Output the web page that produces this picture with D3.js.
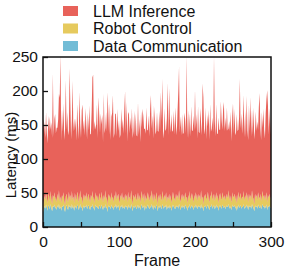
<!DOCTYPE html>
<html>
<head>
<meta charset="utf-8">
<script src="https://cdn.jsdelivr.net/npm/d3@7"></script>
<style>
  html, body { margin: 0; padding: 0; background: #fff; }
  svg { display: block; font-family: "Liberation Sans", Arial, sans-serif; }
  .chart__text { fill: #111; }
</style>
</head>
<body>
<div id="chart"></div>
<script>
// Series names and colours (legend order, top to bottom)
const seriesNames = ["LLM Inference", "Robot Control", "Data Communication"];
const seriesColors = ["#E8625A", "#E6CA5E", "#72BCD6"];

// Tick labels
const xTicks = [0, 50, 100, 150, 200, 250, 300];
const xTickLabels = [0, 100, 200, 300];
const yTicks = [0, 50, 100, 150, 200, 250];

// Data Communication latency per frame (ms), frames 0..300
const dataComm = [
  22, 25, 31, 27, 33, 29, 24, 32, 30, 26, 34, 28, 23, 31, 29, 33, 27, 30, 25, 32,
  28, 34, 26, 30, 24, 31, 29, 33, 27, 22, 30, 32, 28, 25, 33, 29, 31, 26, 34, 28,
  30, 24, 32, 29, 27, 33, 31, 25, 29, 34, 28, 30, 23, 32, 27, 31, 29, 33, 26, 30,
  32, 28, 25, 31, 29, 34, 27, 30, 24, 33, 29, 31, 28, 26, 32, 30, 27, 33, 29, 25,
  31, 28, 34, 27, 30, 22, 32, 29, 31, 26, 33, 28, 30, 25, 31, 29, 34, 27, 30, 32,
  28, 24, 31, 29, 33, 27, 30, 26, 32, 29, 31, 25, 33, 28, 30, 27, 34, 29, 23, 31,
  30, 28, 32, 26, 29, 33, 27, 31, 25, 30, 34, 28, 29, 32, 24, 31, 27, 30, 33, 29,
  26, 31, 28, 34, 30, 25, 32, 29, 27, 33, 30, 23, 31, 28, 32, 29, 26, 34, 30, 27,
  31, 29, 33, 25, 30, 28, 32, 27, 31, 24, 29, 33, 30, 28, 26, 32, 29, 31, 27, 34,
  30, 25, 29, 32, 28, 31, 26, 33, 30, 29, 24, 31, 28, 34, 27, 30, 32, 29, 25, 31,
  28, 33, 30, 26, 32, 29, 31, 27, 34, 28, 30, 23, 31, 29, 32, 27, 30, 33, 28, 25,
  31, 29, 34, 27, 30, 32, 26, 29, 33, 28, 31, 24, 30, 32, 29, 27, 33, 30, 28, 31,
  26, 32, 29, 30, 34, 27, 31, 28, 25, 33, 29, 30, 32, 27, 31, 24, 29, 33, 28, 30,
  32, 27, 30, 29, 34, 26, 31, 28, 33, 30, 25, 32, 29, 31, 27, 34, 30, 28, 23, 32,
  29, 31, 27, 33, 30, 28, 32, 26, 30, 34, 29, 31, 27, 30, 33, 25, 31, 29, 32, 28,
  30
];

// Robot Control latency per frame (ms)
const robotCtrl = [
  10, 12, 15, 12, 18, 14, 11, 17, 16, 12, 19, 13, 10, 16, 14, 18, 12, 15, 11, 17,
  13, 20, 12, 15, 11, 16, 14, 18, 12, 10, 15, 17, 13, 11, 19, 14, 16, 12, 19, 13,
  15, 11, 18, 14, 12, 19, 16, 11, 14, 20, 13, 15, 10, 17, 12, 16, 14, 18, 12, 15,
  17, 13, 11, 16, 14, 19, 12, 15, 11, 18, 14, 16, 13, 12, 18, 15, 12, 19, 14, 11,
  16, 13, 20, 12, 15, 10, 17, 14, 16, 12, 18, 13, 15, 11, 16, 14, 19, 12, 15, 17,
  13, 11, 16, 14, 18, 12, 15, 12, 17, 14, 16, 11, 19, 13, 15, 12, 20, 14, 10, 16,
  15, 13, 17, 12, 14, 18, 12, 16, 11, 15, 19, 13, 14, 18, 11, 16, 12, 15, 18, 14,
  12, 16, 13, 20, 15, 11, 17, 14, 12, 18, 15, 10, 16, 13, 17, 14, 12, 19, 15, 12,
  16, 14, 18, 11, 15, 13, 17, 12, 16, 11, 14, 19, 15, 13, 12, 17, 14, 16, 12, 20,
  15, 11, 14, 17, 13, 16, 12, 18, 15, 14, 11, 16, 13, 19, 12, 15, 18, 14, 11, 16,
  13, 18, 15, 12, 17, 14, 16, 12, 20, 13, 15, 10, 16, 14, 17, 12, 15, 19, 13, 11,
  16, 14, 19, 12, 15, 17, 12, 14, 18, 13, 16, 11, 15, 18, 14, 12, 18, 15, 13, 16,
  12, 17, 14, 15, 20, 12, 16, 13, 11, 18, 14, 15, 17, 12, 16, 11, 14, 19, 13, 15,
  18, 12, 15, 14, 19, 12, 16, 13, 18, 15, 11, 17, 14, 16, 12, 20, 15, 13, 10, 17,
  14, 16, 12, 18, 15, 13, 17, 12, 15, 19, 14, 16, 12, 15, 18, 11, 16, 14, 17, 13,
  15
];

// LLM Inference latency per frame (ms)
const llmInfer = [
  112, 122, 100, 92, 118, 96, 88, 115, 94, 124, 90, 113, 98, 179, 91, 108, 127, 93, 110, 97,
  118, 142, 152, 209, 92, 126, 97, 131, 89, 112, 171, 94, 128, 99, 90, 190, 134, 91, 106, 174,
  95, 125, 92, 117, 88, 129, 104, 93, 156, 98, 90, 127, 147, 94, 119, 88, 132, 99, 91, 123,
  93, 138, 100, 90, 126, 167, 185, 96, 121, 92, 108, 133, 90, 153, 115, 94, 128, 99, 122, 89,
  149, 97, 92, 130, 95, 166, 118, 93, 135, 90, 111, 127, 149, 95, 91, 124, 113, 94, 129, 92,
  116, 96, 89, 131, 94, 120, 92, 136, 151, 95, 137, 90, 114, 128, 93, 122, 89, 132, 98, 94,
  126, 92, 118, 97, 90, 133, 96, 112, 89, 125, 93, 133, 120, 94, 110, 90, 137, 97, 92, 121,
  95, 127, 153, 91, 119, 94, 129, 117, 97, 90, 124, 108, 93, 130, 92, 156, 118, 165, 96, 91,
  128, 98, 93, 124, 167, 94, 155, 119, 92, 131, 97, 90, 126, 95, 138, 100, 92, 123, 159, 182,
  94, 127, 92, 117, 96, 91, 130, 108, 93, 209, 96, 125, 90, 114, 94, 133, 92, 98, 128, 95,
  161, 93, 121, 92, 129, 97, 91, 136, 99, 94, 166, 158, 98, 93, 127, 90, 120, 96, 131, 92,
  134, 97, 92, 122, 94, 202, 118, 91, 130, 96, 90, 126, 98, 93, 142, 119, 92, 128, 143, 94,
  123, 92, 133, 97, 91, 117, 94, 129, 90, 112, 139, 93, 125, 96, 92, 131, 98, 91, 120, 173,
  95, 128, 92, 114, 141, 94, 124, 91, 142, 97, 92, 130, 98, 144, 94, 119, 91, 135, 96, 93,
  127, 94, 116, 92, 132, 156, 97, 90, 124, 93, 131, 96, 91, 122, 137, 165, 132, 93, 126, 95,
  118
];

// Chart geometry
const W = 299, H = 271;
const margin = { top: 57, right: 28, bottom: 44, left: 43 };
const width = W - margin.left - margin.right;
const height = H - margin.top - margin.bottom;

// Build stack table from the arrays (bottom layer first)
const table = dataComm.map((d, i) => ({
  frame: i,
  comm: d,
  robot: robotCtrl[i],
  llm: llmInfer[i]
}));
const keys = ["comm", "robot", "llm"];
const keyColor = { comm: seriesColors[2], robot: seriesColors[1], llm: seriesColors[0] };

const layers = d3.stack().keys(keys)(table);

// Scales
const x = d3.scaleLinear().domain([0, 300]).range([0, width]);
const y = d3.scaleLinear().domain([0, 250]).range([height, 0]);

const svg = d3.select("#chart")
  .append("svg")
  .attr("width", W)
  .attr("height", H);

const g = svg.append("g")
  .attr("transform", "translate(" + margin.left + "," + margin.top + ")");

// Clip to plot box
svg.append("defs").append("clipPath")
  .attr("id", "plotClip")
  .append("rect")
  .attr("width", width)
  .attr("height", height);

// Stacked areas
const area = d3.area()
  .x(d => x(d.data.frame))
  .y0(d => y(d[0]))
  .y1(d => y(d[1]));

g.append("g")
  .attr("clip-path", "url(#plotClip)")
  .selectAll("path")
  .data(layers)
  .enter()
  .append("path")
  .attr("fill", d => keyColor[d.key])
  .attr("d", area);

// X axis (ticks inward)
const xAxis = d3.axisBottom(x)
  .tickValues(xTicks)
  .tickSizeInner(-5)
  .tickSizeOuter(0)
  .tickFormat(d => xTickLabels.includes(d) ? d : "");

const gX = g.append("g")
  .attr("transform", "translate(0," + height + ")")
  .call(xAxis);
gX.selectAll("text")
  .attr("class", "chart__text")
  .attr("y", 9)
  .attr("dy", "0.71em")
  .style("font-size", "15.5px");

// Y axis (ticks inward)
const yAxis = d3.axisLeft(y)
  .tickValues(yTicks)
  .tickSizeInner(-5)
  .tickSizeOuter(0);

const gY = g.append("g").call(yAxis);
gY.selectAll("text")
  .attr("class", "chart__text")
  .attr("x", -5)
  .style("font-size", "15.5px");

[gX, gY].forEach(ax => {
  ax.select(".domain").remove();
  ax.selectAll("line").attr("stroke", "#111").attr("stroke-width", 1.3);
  ax.attr("font-family", null).attr("font-size", null);
});

// Frame box
g.append("rect")
  .attr("width", width)
  .attr("height", height)
  .attr("fill", "none")
  .attr("stroke", "#111")
  .attr("stroke-width", 1.5);

// Axis titles
svg.append("text")
  .attr("class", "chart__text")
  .attr("x", margin.left + width / 2)
  .attr("y", 266)
  .attr("text-anchor", "middle")
  .style("font-size", "16px")
  .text("Frame");

svg.append("text")
  .attr("class", "chart__text")
  .attr("transform", "translate(16,155) rotate(-90)")
  .attr("text-anchor", "middle")
  .style("font-size", "15px")
  .text("Latency (ms)");

// Legend
const legend = svg.append("g")
  .attr("transform", "translate(63,6)");

const rows = legend.selectAll("g")
  .data(seriesNames)
  .enter()
  .append("g")
  .attr("transform", (d, i) => "translate(0," + (i * 17.5) + ")");

rows.append("rect")
  .attr("width", 15)
  .attr("height", 10)
  .attr("fill", (d, i) => seriesColors[i]);

rows.append("text")
  .attr("class", "chart__text")
  .attr("x", 30)
  .attr("y", 5)
  .attr("dy", "0.36em")
  .style("font-size", "16px")
  .text(d => d);
</script>
</body>
</html>
